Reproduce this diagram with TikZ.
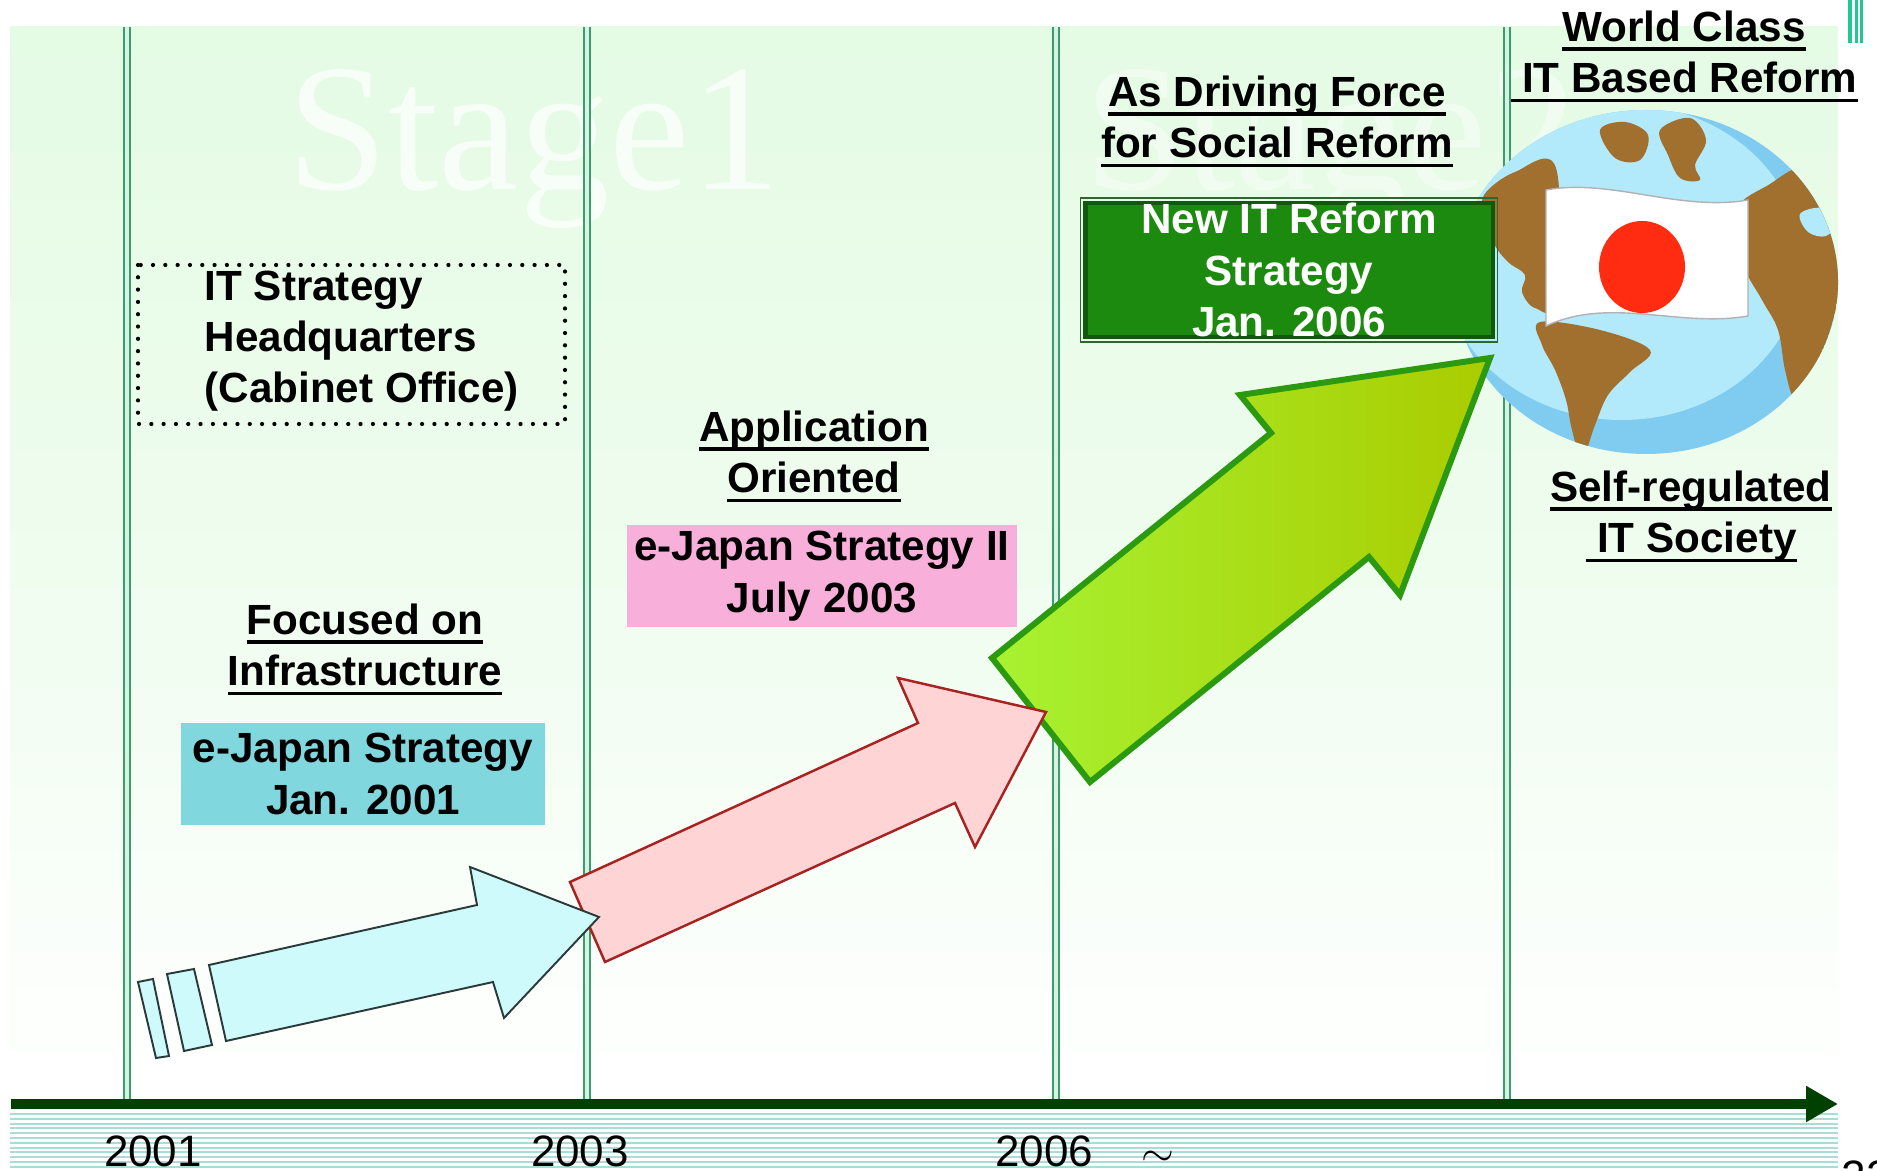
\documentclass[tikz,border=0pt]{standalone}
\usepackage{fontspec}
\setmainfont{Liberation Sans}
\newfontfamily\stagefont{Liberation Serif}
\usetikzlibrary{fit,shapes,arrows.meta}

\definecolor{bgGreen}{HTML}{E4FBE4}
\definecolor{colLine}{HTML}{3C9C6E}
\definecolor{colLineIn}{HTML}{D6F2E2}
\definecolor{axisGreen}{HTML}{004000}
\definecolor{stripeTeal}{HTML}{ACDAD4}
\definecolor{barTeal}{HTML}{22C892}
\definecolor{boxCyan}{HTML}{80D8DE}
\definecolor{boxPink}{HTML}{F8B0DA}
\definecolor{boxGreen}{HTML}{1C8A0E}
\definecolor{boxGreenDk}{HTML}{0E5A0A}
\definecolor{arrCyan}{HTML}{CFFAFC}
\definecolor{arrCyanDk}{HTML}{2A3A3A}
\definecolor{arrPink}{HTML}{FFD4D4}
\definecolor{arrPinkDk}{HTML}{A82222}
\definecolor{arrLime}{HTML}{A8F232}
\definecolor{arrOlive}{HTML}{AACC00}
\definecolor{arrLimeDk}{HTML}{2C9A10}
\definecolor{seaLight}{HTML}{B2E9FB}
\definecolor{seaDark}{HTML}{80CCF0}
\definecolor{land}{HTML}{A2702E}
\definecolor{sunRed}{HTML}{FF2C12}

% underline at a fixed depth below the baseline
\newcommand{\ulin}[1]{\setbox0=\hbox{#1}\rlap{\smash{\vrule height -1.7pt depth 2.7pt width \wd0}}\box0}

\tikzset{
  stageline/.style={draw=colLine, line width=0.6pt, double=colLineIn, double distance=1pt},
  timeaxis/.style={draw=axisGreen, line width=2.85pt, -{Triangle[length=9.1pt,width=9.7pt]}},
  headtext/.style={font=\fontsize{12}{14.6}\selectfont\bfseries, align=center, inner sep=0pt},
  datebox/.style={headtext, minimum height=1.01cm},
  yeartext/.style={font=\fontsize{12.5}{15}\selectfont, inner sep=0pt},
  stagemark/.style={font=\stagefont\fontsize{51.5}{52}\selectfont, text=white, inner sep=0pt, anchor=base west},
  dotframe/.style={line width=1.2pt, dash pattern=on 0pt off 3.5pt, line cap=round},
}

\begin{document}
\begin{tikzpicture}[x=0.01cm, y=-0.01cm]
  \useasboundingbox (0,0) rectangle (1877,1171);

  % Background
  \fill[top color=bgGreen, bottom color=white, middle color=bgGreen!60!white] (10,27) rectangle (1838,1100);
  \foreach \y in {1114,1118.8,...,1171}
    \draw[stripeTeal, line width=0.55pt] (10,\y) -- (1838,\y);
  \fill[barTeal] (1848,0) rectangle (1852,43);
  \fill[barTeal] (1855,0) rectangle (1857.5,43);
  \fill[barTeal] (1860,0) rectangle (1863,43);

  % Stage watermarks
  \node[stagemark, text opacity=0.7] (stageA) at (287,190) {Stage1};
  \node[stagemark, text opacity=0.4] (stageB) at (1084,190) {Stage2};

  % Columns
  \foreach \x in {127,587,1056,1507}
    \draw[stageline] (\x,27) -- (\x,1100);

  % Globe
  \begin{scope}
    \fill[seaDark] (1646,282) ellipse [x radius=192, y radius=172];
    \clip (1646,282) ellipse [x radius=192, y radius=172];
    \fill[seaLight] (1622,262) ellipse [x radius=180, y radius=158];
    \fill[land] plot[smooth cycle, tension=0.6] coordinates {(1484,195) (1515,172) (1556,168) (1556,300) (1535,308) (1522,292) (1525,275) (1508,262) (1494,244) (1486,218)};
    \fill[land] plot[smooth cycle, tension=0.6] coordinates {(1540,322) (1600,330) (1650,350) (1630,372) (1608,395) (1595,425) (1582,458) (1572,430) (1566,400) (1555,370) (1542,345)};
    \fill[land] plot[smooth cycle, tension=0.6] coordinates {(1736,210) (1770,184) (1800,168) (1822,185) (1836,215) (1840,280) (1830,330) (1812,372) (1795,398) (1785,370) (1778,330) (1762,300) (1742,262)};
    \fill[seaLight] plot[smooth cycle, tension=0.6] coordinates {(1800,214) (1822,208) (1836,222) (1826,236) (1808,232)};
    \fill[land] plot[smooth cycle, tension=0.6] coordinates {(1600,130) (1625,122) (1648,135) (1640,160) (1615,158)};
    \fill[land] plot[smooth cycle, tension=0.6] coordinates {(1660,130) (1690,118) (1706,140) (1695,165) (1700,180) (1680,178) (1668,155)};
  \end{scope}
  \draw[gray!60, fill=white] (1546,190) .. controls (1610,178) and (1680,212) .. (1748,200)
    -- (1748,316) .. controls (1680,328) and (1610,296) .. (1546,326) -- cycle;
  \fill[sunRed] (1642,267) ellipse [x radius=43, y radius=46];

  % Strategy boxes
  \draw[dotframe] (138,265) rectangle (565,424);
  \node[headtext, align=left, anchor=west] (hq) at (204,341) {IT Strategy\\Headquarters\\(Cabinet Office)};

  \node[headtext] (focus) at (365,645) {\ulin{Focused on}\\\ulin{Infrastructure}};
  \node[datebox, fill=boxCyan, minimum width=3.64cm] (ejA) at (363,774) {e-Japan Strategy\\Jan. 2001};

  \node[headtext] (appl) at (814,452) {\ulin{Application}\\\ulin{Oriented}};
  \node[datebox, fill=boxPink, minimum width=3.89cm] (ejB) at (822,576) {e-Japan Strategy II\\July 2003};

  \node[headtext] (drive) at (1277,117) {\ulin{As Driving Force}\\\ulin{for Social Reform}};
  \node[headtext, text=white, fill=boxGreen, draw=boxGreenDk, line width=1.2pt,
        minimum width=4.07cm, minimum height=1.28cm] (newit) at (1289,270) {New IT Reform\\Strategy\\Jan. 2006};
  \node[draw=boxGreenDk!70!gray, line width=0.4pt, fit=(newit), inner sep=0.03cm] (newitrim) {};

  \node[headtext] (world) at (1684,52) {\ulin{World Class}\\\ulin{\ IT Based Reform}};
  \node[headtext] (selfreg) at (1691,516) {\ulin{Self-regulated}\\\ulin{\ IT Society}};

  % Rising arrows
  \draw[arrLimeDk, line width=1.7pt, left color=arrLime, right color=arrOlive]
    (992,658) -- (1271,433) -- (1240,395) -- (1490,358) -- (1400,595) -- (1369,557) -- (1090,782) -- cycle;
  \draw[arrPinkDk, line width=0.7pt, fill=arrPink]
    (570,882) -- (918,723) -- (898,678) -- (1046,712) -- (975,847) -- (955,803) -- (605,962) -- cycle;
  \draw[arrCyanDk, line width=0.55pt, fill=arrCyan]
    (209,965) -- (477,905) -- (470,867) -- (599,917) -- (504,1018) -- (493,982) -- (226,1041) -- cycle;
  \draw[arrCyanDk, line width=0.55pt, fill=arrCyan] (167,974) -- (194,969) -- (212,1045) -- (184,1051) -- cycle;
  \draw[arrCyanDk, line width=0.55pt, fill=arrCyan] (138,982) -- (153,979) -- (169,1056) -- (156,1058) -- cycle;

  % Time axis
  \coordinate (t0) at (11,1104);
  \coordinate (t1) at (1838,1104);
  \draw[timeaxis] (t0) -- (t1);
  \node[yeartext] (yA) at (153,1151) {2001};
  \node[yeartext] (yB) at (580,1151) {2003};
  \node[yeartext] (yC) at (1085,1151) {2006\hspace{1.1em}$\sim$};
  \node[yeartext, anchor=north west] (page) at (1841,1160) {22};
\end{tikzpicture}
\end{document}
